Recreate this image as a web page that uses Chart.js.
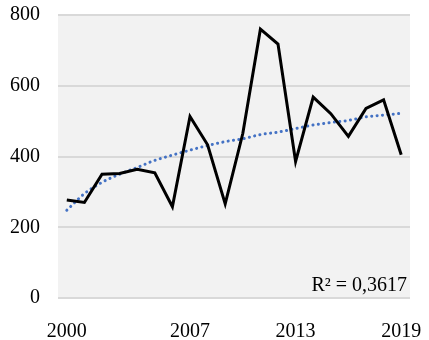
<!DOCTYPE html>
<html>
<head>
<meta charset="utf-8">
<script src="https://cdn.jsdelivr.net/npm/chart.js@4"></script>
<style>
  html, body { margin: 0; padding: 0; background: #fff; }
  #wrap { width: 429px; height: 340px; }
</style>
</head>
<body>
<div id="wrap"><canvas id="chart" width="429" height="340"></canvas></div>
<script>
const years = ["2000","2001","2002","2003","2004","2005","2006","2007","2008","2009",
               "2010","2011","2012","2013","2014","2015","2016","2017","2018","2019"];
const values = [277, 270, 350, 352, 364, 354, 258, 513, 433, 266,
                465, 760, 718, 386, 568, 521, 457, 536, 560, 405];
// logarithmic trend line
const trend = [248, 295, 327, 350, 369, 389, 404, 418, 431, 442,
               450, 462, 469, 479, 489, 496, 502, 512, 517, 522];
const shownYears = ["2000", "2007", "2013", "2019"];
const yTicks = [0, 200, 400, 600, 800];
const r2Label = "R² = 0,3617";

const serif = "'Liberation Serif', 'DejaVu Serif', serif";

// grey plot area + R² text
const plotBg = {
  id: 'plotBg',
  beforeDraw(chart) {
    const a = chart.chartArea, ctx = chart.ctx;
    ctx.save();
    ctx.fillStyle = '#f2f2f2';
    ctx.fillRect(a.left, a.top, a.right - a.left, a.bottom - a.top);
    ctx.restore();
  },
  afterDraw(chart) {
    const a = chart.chartArea, ctx = chart.ctx;
    ctx.save();
    ctx.font = "20px " + serif;
    ctx.fillStyle = '#000';
    ctx.textAlign = 'right';
    ctx.textBaseline = 'alphabetic';
    ctx.fillText(r2Label, a.right - 3, a.bottom - 7);
    ctx.restore();
  }
};

new Chart(document.getElementById('chart').getContext('2d'), {
  type: 'line',
  data: {
    labels: years,
    datasets: [
      {
        label: 'Series',
        data: values,
        borderColor: '#000',
        borderWidth: 3,
        pointRadius: 0,
        tension: 0,
        fill: false
      },
      {
        label: 'Trend',
        data: trend,
        borderColor: '#4472c4',
        borderWidth: 3,
        borderDash: [0.1, 5.3],
        borderCapStyle: 'round',
        pointRadius: 0,
        cubicInterpolationMode: 'monotone',
        fill: false
      }
    ]
  },
  options: {
    responsive: false,
    animation: false,
    layout: { padding: { top: 15, right: 19, left: 0, bottom: 0 } },
    plugins: { legend: { display: false }, tooltip: { enabled: false } },
    scales: {
      x: {
        offset: true,
        grid: { display: false },
        border: { display: false },
        ticks: {
          autoSkip: false,
          maxRotation: 0,
          padding: 14,
          color: '#000',
          font: { family: serif, size: 20 },
          callback: function(v) {
            const l = this.getLabelForValue(v);
            return shownYears.includes(l) ? l : '';
          }
        },
        afterFit(s) { s.height = 42; s.paddingLeft = 0; s.paddingRight = 0; }
      },
      y: {
        min: 0,
        max: 800,
        afterBuildTicks(s) { s.ticks = yTicks.map(v => ({ value: v })); },
        grid: { color: '#d9d9d9', lineWidth: 2, drawTicks: false },
        border: { display: false },
        ticks: {
          padding: 18,
          color: '#000',
          font: { family: serif, size: 20 }
        },
        afterFit(s) { s.width = 58; s.paddingTop = 0; s.paddingBottom = 0; }
      }
    }
  },
  plugins: [plotBg]
});
</script>
</body>
</html>
